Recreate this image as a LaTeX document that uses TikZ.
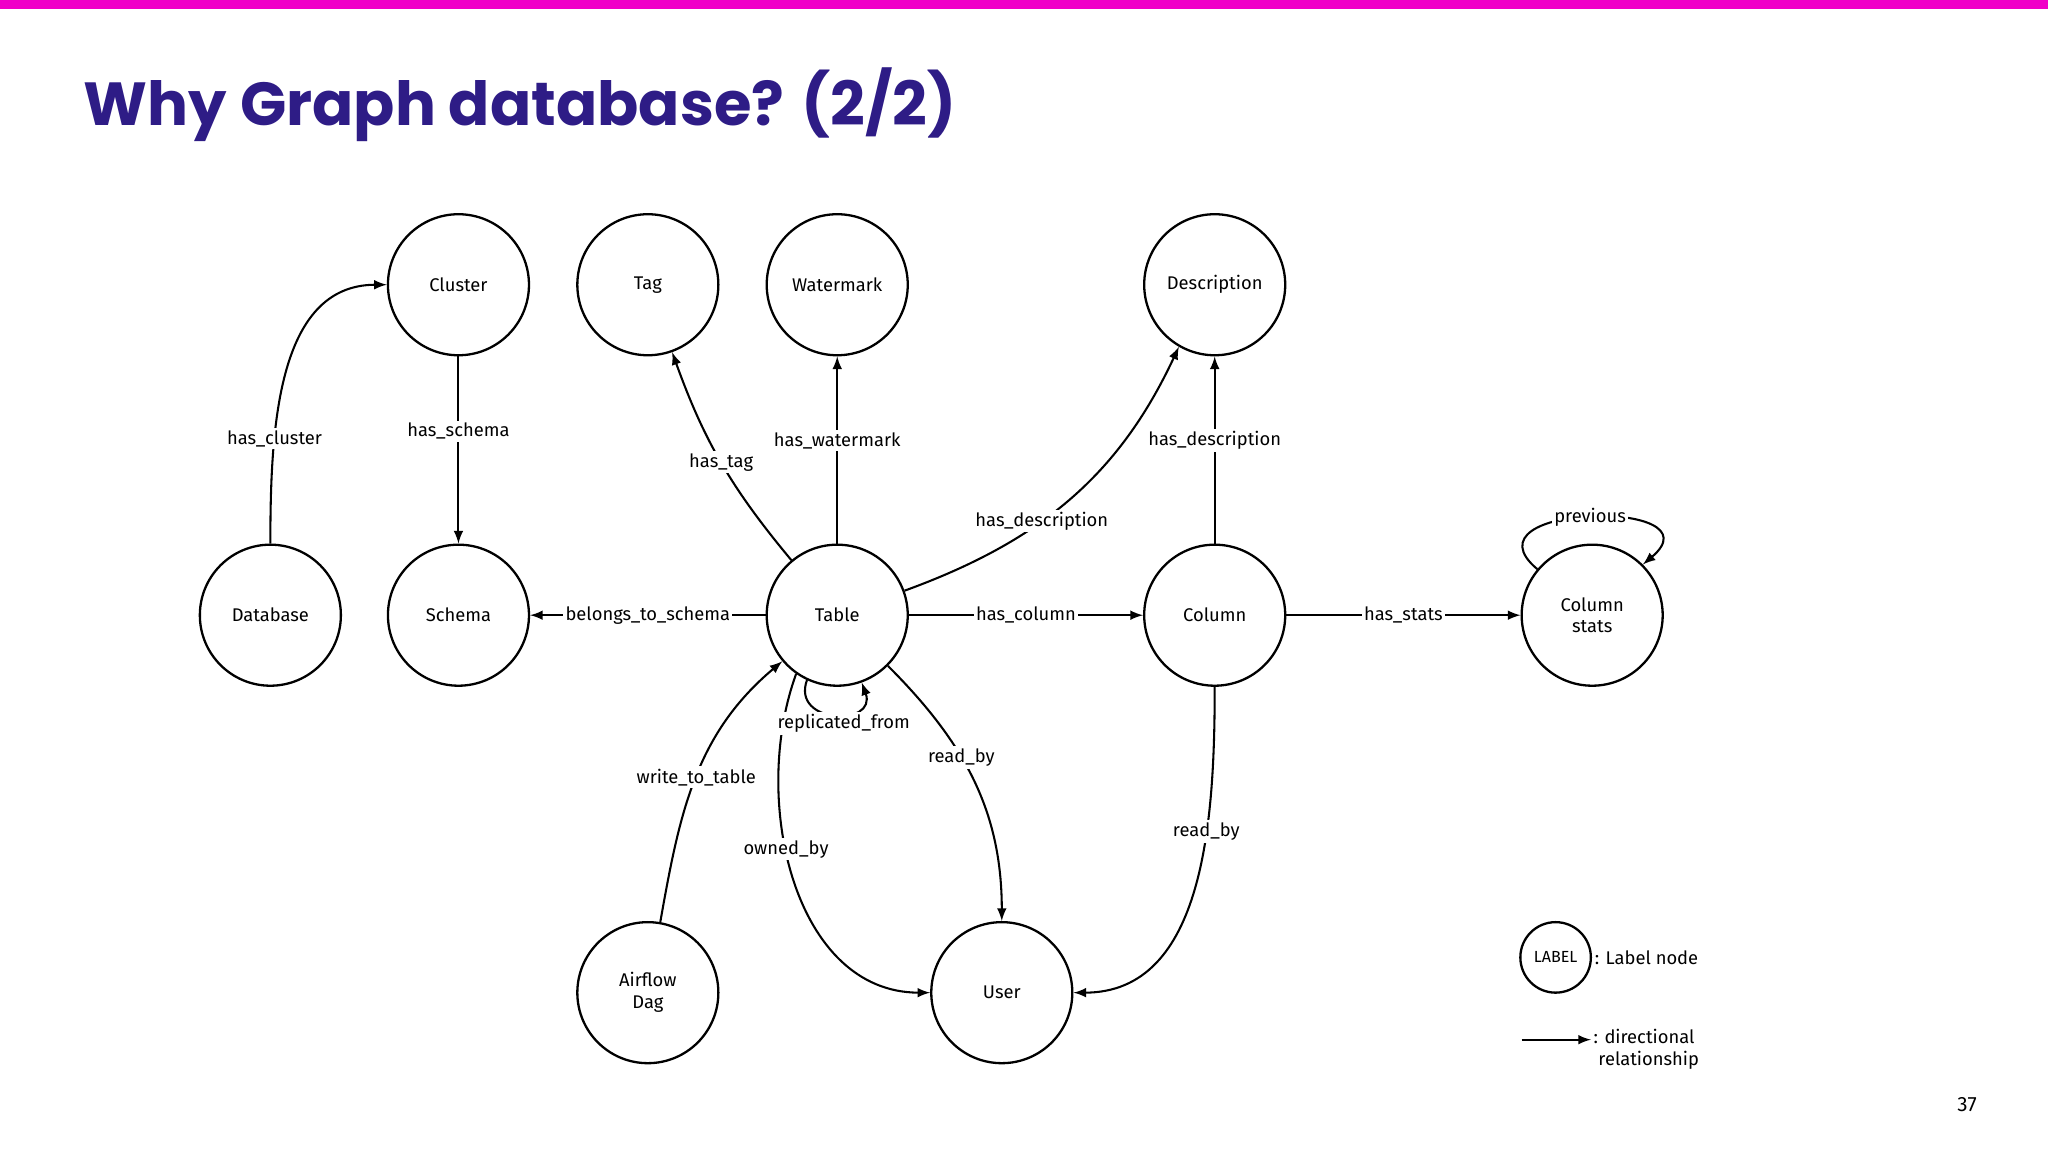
\documentclass[tikz,border=0pt]{standalone}
\usepackage{fontspec}
\setmainfont{Fira Sans}
\newfontfamily\titlefont{Poppins}
\usetikzlibrary{arrows}
\definecolor{barpink}{HTML}{F000C8}
\definecolor{titlepurple}{HTML}{2E1C86}
\tikzstyle{ent} = [circle, draw, line width=1pt, minimum size=2.16cm, inner sep=0pt, align=center, font=\footnotesize, fill=white]
\tikzstyle{arrow} = [line width=0.9pt, ->, >= latex]
\tikzstyle{lbl} = [fill=white, inner sep=1pt, font=\footnotesize]

\begin{document}
\begin{tikzpicture}[x=0.02cm, y=-0.02cm]
    \useasboundingbox (0,0) rectangle (1568,882);
    \fill[barpink] (0,0) rectangle (1568,7);
    \node[anchor=west, text=titlepurple, font=\titlefont\fontsize{26.5}{30}\selectfont\bfseries] (title) at (58,80) {Why Graph database? (2/2)};
    \node[font=\small] (page) at (1506,846) {37};

    \node[ent] (cluster) at (351,218) {Cluster};
    \node[ent] (tag) at (496,218) {Tag};
    \node[ent] (wm) at (641,218) {Watermark};
    \node[ent] (desc) at (930,218) {Description};
    \node[ent] (db) at (207,471) {Database};
    \node[ent] (schema) at (351,471) {Schema};
    \node[ent] (table) at (641,471) {Table};
    \node[ent] (col) at (930,471) {Column};
    \node[ent] (stats) at (1219,471) {Column\\stats};
    \node[ent] (dag) at (496,760) {Airflow\\Dag};
    \node[ent] (user) at (767,760) {User};

    \path[arrow]
        (db) edge[out=90, in=180] node[lbl, pos=0.3] {has\_cluster} (cluster)
        (cluster) edge node[lbl, pos=0.4] {has\_schema} (schema)
        (table) edge node[lbl] {belongs\_to\_schema} (schema)
        (table) edge[bend left=10] node[lbl, pos=0.5] {has\_tag} (tag)
        (table) edge node[lbl, pos=0.55] {has\_watermark} (wm)
        (table.20) edge[out=20, in=245] node[lbl, pos=0.4] {has\_description} (desc.240)
        (col) edge node[lbl, pos=0.55] {has\_description} (desc)
        (table) edge node[lbl] {has\_column} (col)
        (col) edge node[lbl] {has\_stats} (stats)
        (stats.140) edge[out=140, in=40, looseness=2.5] node[lbl, pos=0.5] {previous} (stats.45)
        (table.245) edge[out=250, in=290, looseness=2.2] (table.290)
        (dag) edge[out=80, in=220] node[lbl, pos=0.5] {write\_to\_table} (table.220)
        (table.235) edge[out=250, in=180] node[lbl, pos=0.42] {owned\_by} (user)
        (table.315) edge[out=-45, in=90] node[lbl, pos=0.4] {read\_by} (user)
        (col) edge[out=270, in=0] node[lbl, pos=0.35] {read\_by} (user);
    \node[lbl] (repl) at (646,554) {replicated\_from};

    % legend
    \node[circle, draw, line width=1pt, minimum size=1.08cm, inner sep=0pt, font=\scriptsize] (leg) at (1191,733) {LABEL};
    \node[anchor=west, font=\footnotesize, inner sep=1pt] (legtxt) at (leg.east) {: Label node};
    \coordinate (la) at (1165,796);
    \coordinate (lb) at (1218,796);
    \draw[arrow] (la) -- (lb);
    \node[anchor=north west, align=left, font=\footnotesize, inner sep=1pt] (legtxt2) at (1218,786) {: directional\\\ relationship};
\end{tikzpicture}
\end{document}
